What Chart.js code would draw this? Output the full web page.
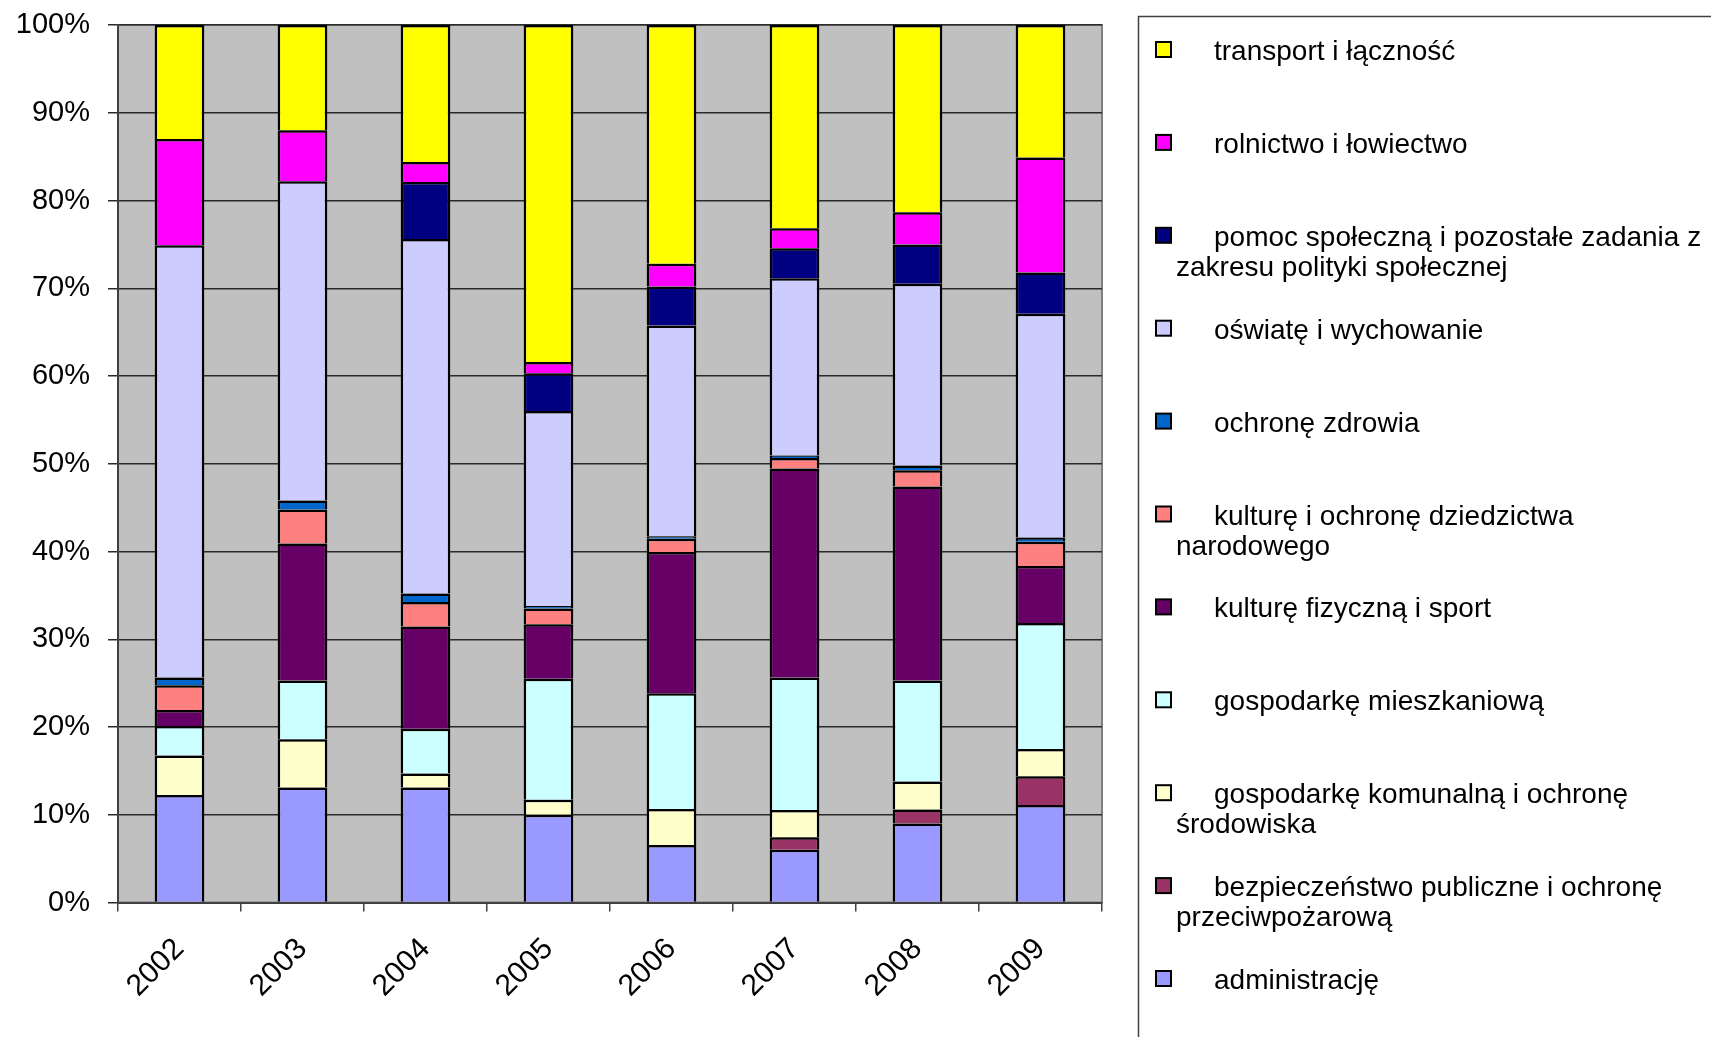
<!DOCTYPE html>
<html lang="pl">
<head>
<meta charset="utf-8">
<title>Struktura wydatków 2002-2009</title>
<script src="https://cdn.jsdelivr.net/npm/chart.js@4/dist/chart.umd.min.js"></script>
<style>
  html, body { margin: 0; padding: 0; background: #fff; }
  canvas { display: block; }
</style>
</head>
<body>
<canvas id="chart" width="1711" height="1037"></canvas>
<script>
const years = ["2002", "2003", "2004", "2005", "2006", "2007", "2008", "2009"];

const yTicks = [0, 10, 20, 30, 40, 50, 60, 70, 80, 90, 100];

// shares in %, bottom of the stack first
const administracja = [12.25, 13.1, 13.1, 10.0, 6.55, 6.0, 9.0, 11.1];
const bezpieczenstwo = [0, 0, 0, 0, 0, 1.45, 1.6, 3.3];
const komunalna = [4.5, 5.5, 1.6, 1.7, 4.1, 3.1, 3.2, 3.1];
const mieszkaniowa = [3.35, 6.7, 5.1, 13.8, 13.2, 15.1, 11.5, 14.35];
const sport = [1.85, 15.6, 11.65, 6.2, 16.1, 23.8, 22.1, 6.5];
const kultura = [2.8, 3.9, 2.8, 1.8, 1.5, 1.2, 1.85, 2.75];
const zdrowie = [0.9, 1.0, 0.95, 0.3, 0.3, 0.3, 0.55, 0.5];
const oswiata = [49.25, 36.4, 40.4, 22.2, 24.0, 20.2, 20.7, 25.5];
const pomoc = [0, 0, 6.5, 4.3, 4.45, 3.4, 4.5, 4.7];
const rolnictwo = [12.1, 5.8, 2.3, 1.3, 2.6, 2.3, 3.65, 13.1];
const transport = [13.0, 12.0, 15.6, 38.4, 27.2, 23.15, 21.35, 15.1];

const seriesNames = [
  "administrację",
  "bezpieczeństwo publiczne i ochronę przeciwpożarową",
  "gospodarkę komunalną i ochronę środowiska",
  "gospodarkę mieszkaniową",
  "kulturę fizyczną i sport",
  "kulturę i ochronę dziedzictwa narodowego",
  "ochronę zdrowia",
  "oświatę i wychowanie",
  "pomoc społeczną i pozostałe zadania z zakresu polityki społecznej",
  "rolnictwo i łowiectwo",
  "transport i łączność"
];
const seriesValues = [administracja, bezpieczenstwo, komunalna, mieszkaniowa, sport,
  kultura, zdrowie, oswiata, pomoc, rolnictwo, transport];
const seriesColors = ["#9999FF", "#993366", "#FFFFCC", "#CCFFFF", "#660066",
  "#FF8080", "#0066CC", "#CCCCFF", "#000080", "#FF00FF", "#FFFF00"];

const FONT = "'Liberation Sans', Arial, sans-serif";

const plotBackground = {
  id: "plotBackground",
  beforeDraw(chart) {
    const { ctx, chartArea: a } = chart;
    ctx.save();
    ctx.fillStyle = "#C0C0C0";
    ctx.fillRect(a.left, a.top, a.right - a.left, a.bottom - a.top);
    ctx.strokeStyle = "#808080";
    ctx.lineWidth = 2;
    ctx.strokeRect(a.left, a.top, a.right - a.left, a.bottom - a.top);
    ctx.restore();
  }
};

// legend drawn by hand: Excel style box, wrapped labels, top series first
const sideLegend = {
  id: "sideLegend",
  afterDraw(chart) {
    const ctx = chart.ctx;
    const boxLeft = 1138, boxTop = 16;
    const markX = 1156, firstX = 1214, contX = 1176, limit = 1709;
    ctx.save();
    ctx.strokeStyle = "#404040";
    ctx.lineWidth = 1.5;
    ctx.strokeRect(boxLeft + 0.5, boxTop + 0.5, 800, 1200);

    ctx.font = "28px " + FONT;
    ctx.textBaseline = "alphabetic";
    const items = chart.data.datasets.slice().reverse();
    items.forEach((ds, i) => {
      const base = 60 + 92.9 * i;
      ctx.fillStyle = ds.backgroundColor;
      ctx.fillRect(markX, base - 18, 15, 15);
      ctx.strokeStyle = "#000";
      ctx.lineWidth = 2;
      ctx.strokeRect(markX, base - 18, 15, 15);

      const words = ds.label.split(" ");
      const lines = [];
      let line = "";
      words.forEach(w => {
        const test = line ? line + " " + w : w;
        const startX = lines.length === 0 ? firstX : contX;
        if (line && startX + ctx.measureText(test).width > limit) {
          lines.push(line);
          line = w;
        } else {
          line = test;
        }
      });
      lines.push(line);
      ctx.fillStyle = "#000";
      lines.forEach((t, j) => {
        ctx.fillText(t, j === 0 ? firstX : contX, base + j * 30);
      });
    });
    ctx.restore();
  }
};

const datasets = seriesNames.map((name, i) => ({
  label: name,
  data: seriesValues[i],
  backgroundColor: seriesColors[i],
  borderColor: "#000",
  borderWidth: 2.5,
  borderSkipped: "start",
  barPercentage: 0.404,
  categoryPercentage: 1.0
}));

new Chart(document.getElementById("chart"), {
  type: "bar",
  data: { labels: years, datasets: datasets },
  plugins: [plotBackground, sideLegend],
  options: {
    responsive: false,
    animation: false,
    devicePixelRatio: 1,
    layout: { padding: { left: 0, top: 25, right: 609, bottom: 0 } },
    plugins: {
      legend: { display: false },
      tooltip: { enabled: false },
      title: { display: false }
    },
    scales: {
      x: {
        stacked: true,
        afterFit(scale) {
          scale.height = 134.5;
          scale.paddingLeft = 0;
          scale.paddingRight = 0;
        },
        grid: {
          offset: true,
          drawOnChartArea: false,
          tickLength: 9,
          color: "#404040",
          lineWidth: 1.5
        },
        border: { color: "#404040", width: 2 },
        ticks: {
          color: "#000",
          font: { family: FONT, size: 30 },
          minRotation: 45,
          maxRotation: 45,
          padding: 20
        }
      },
      y: {
        stacked: true,
        min: 0,
        max: 100,
        afterFit(scale) {
          scale.width = 118;
          scale.paddingTop = 0;
          scale.paddingBottom = 0;
        },
        afterBuildTicks(scale) { scale.ticks = yTicks.map(v => ({ value: v })); },
        grid: {
          color: "#2a2a2a",
          lineWidth: 1.5,
          tickLength: 10
        },
        border: { color: "#404040", width: 2 },
        ticks: {
          color: "#000",
          font: { family: FONT, size: 29 },
          padding: 18,
          callback: v => v + "%"
        }
      }
    }
  }
});
</script>
</body>
</html>
